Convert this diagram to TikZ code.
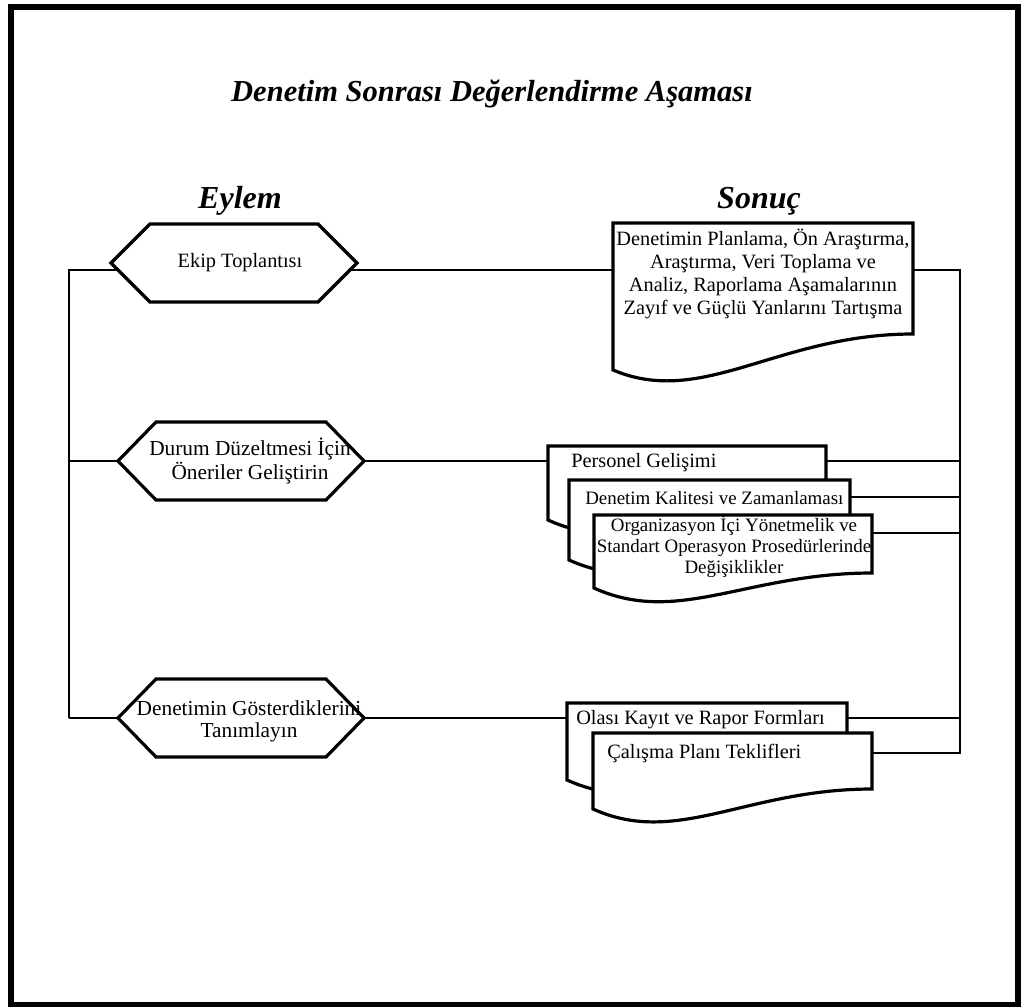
\documentclass[tikz,border=0pt]{standalone}
\usepackage{fontspec}
\setmainfont{Liberation Serif}
\usetikzlibrary{calc}

% hexagonal action box: name, centre x, centre y, half width of flat edge, tip offset
\newcommand\actionhex[5]{%
  \draw[shapeline] (#2-#4,#3-39) -- (#2+#4,#3-39) -- (#2+#4+#5,#3)
    -- (#2+#4,#3+39) -- (#2-#4,#3+39) -- (#2-#4-#5,#3) -- cycle;
  \coordinate (#1-l) at (#2-#4-#5,#3);
  \coordinate (#1-r) at (#2+#4+#5,#3);
}
% document box with wavy bottom: name, left, top, right, bottom-right y, bottom-left y, link y
\newcommand\docbox[7]{%
  \draw[shapeline] (#2,#3) -- (#4,#3) -- (#4,#5)
    .. controls ({#4-0.45*(#4-#2)},{#5}) and ({#2+0.3*(#4-#2)},{#6+38}) .. (#2,#6) -- cycle;
  \coordinate (#1-w) at (#2,#7);
  \coordinate (#1-e) at (#4,#7);
}

\begin{document}
\begin{tikzpicture}[x=0.75pt,y=-0.75pt,
  conn/.style={line width=1.1pt},
  shapeline/.style={line width=2.4pt, line join=miter, fill=white},
  body/.style={font=\fontsize{15.25}{17.25}\selectfont, inner sep=0pt, align=center},
  smallbody/.style={body, font=\fontsize{14.2}{15.75}\selectfont},
  heading/.style={font=\fontsize{24}{28}\selectfont\bfseries\itshape, inner sep=0pt}]

\useasboundingbox (0,0) rectangle (1022,1007);
\draw[line width=3.8pt] (11,7) rectangle (1018,1005);

% headings
\node[heading, font=\fontsize{22.9}{27}\selectfont\bfseries\itshape, anchor=base] (title) at (492,101) {Denetim Sonrası Değerlendirme Aşaması};
\node[heading, anchor=base] (eylem) at (240,208) {Eylem};
\node[heading, anchor=base] (sonuc) at (759,208) {Sonuç};

% rails on both sides
\coordinate (lt) at (69,270);
\coordinate (lm) at (69,461);
\coordinate (lb) at (69,718);
\coordinate (r1) at (960,270);
\coordinate (r2) at (960,461);
\coordinate (r3) at (960,497);
\coordinate (r4) at (960,533);
\coordinate (r5) at (960,718);
\coordinate (r6) at (960,753);

% action boxes
\actionhex{h1}{234}{263}{84}{39}
\actionhex{h2}{241}{461}{85}{38}
\actionhex{h3}{241}{718}{85}{38}
\node[body] (h1t) at (240,263) {Ekip Toplantısı};
\node[body, font=\fontsize{16}{14.6}\selectfont] (h2t) at (250,461) {Durum Düzeltmesi İçin\\Öneriler Geliştirin};
\node[body, font=\fontsize{16}{16.5}\selectfont] (h3t) at (249,721) {Denetimin Gösterdiklerini\\Tanımlayın};

% result documents
\docbox{d1}{613}{223}{913}{334}{370}{270}
\node[body] (d1t) at (763,274) {Denetimin Planlama, Ön Araştırma,\\Araştırma, Veri Toplama ve\\Analiz, Raporlama Aşamalarının\\Zayıf ve Güçlü Yanlarını Tartışma};

\docbox{d2}{548}{446}{826}{505}{520}{461}
\node[body, anchor=base west] (d2t) at (571,467) {Personel Gelişimi};
\docbox{d3}{569}{480}{850}{545}{560}{497}
\node[smallbody, anchor=base west] (d3t) at (585,504) {Denetim Kalitesi ve Zamanlaması};
\docbox{d4}{594}{515}{872}{573}{588}{533}
\node[smallbody] (d4t) at (734,547) {Organizasyon İçi Yönetmelik ve\\Standart Operasyon Prosedürlerinde\\Değişiklikler};

\docbox{d5}{567}{703}{847}{765}{780}{718}
\node[body, anchor=base west] (d5t) at (576,724) {Olası Kayıt ve Rapor Formları};
\docbox{d6}{593}{733}{872}{789}{809}{753}
\node[body, anchor=base west] (d6t) at (607,758) {Çalışma Planı Teklifleri};

% connectors: left rail to the actions
\draw[conn] (lb) -- (lt) -- ($(h1-l)+(7,7)$);
\draw[conn] (lm) -- (h2-l);
\draw[conn] (lb) -- (h3-l);
% actions to their results
\draw[conn] ($(h1-r)+(-7,7)$) -- (d1-w);
\draw[conn] (h2-r) -- (d2-w);
\draw[conn] (h3-r) -- (d5-w);
% results to the right rail
\draw[conn] (d1-e) -- (r1) -- (r6) -- (d6-e);
\draw[conn] (d2-e) -- (r2);
\draw[conn] (d3-e) -- (r3);
\draw[conn] (d4-e) -- (r4);
\draw[conn] (d5-e) -- (r5);
\end{tikzpicture}
\end{document}
